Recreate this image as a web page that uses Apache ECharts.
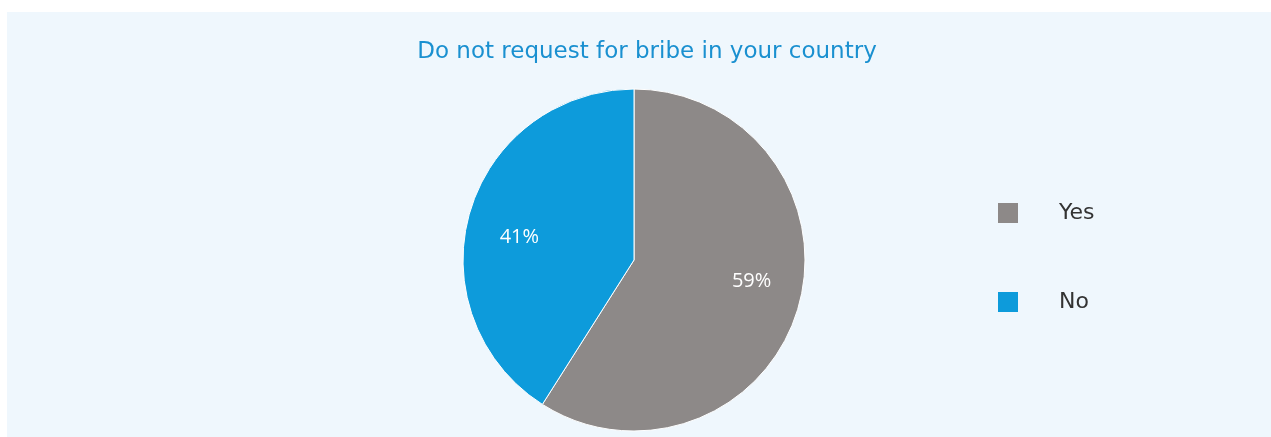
<!DOCTYPE html>
<html>
<head>
<meta charset="utf-8">
<style>
  html, body { margin: 0; padding: 0; background: #ffffff; }
  #chart { width: 1271px; height: 437px; }
</style>
<script src="https://cdn.jsdelivr.net/npm/echarts@6/dist/echarts.min.js"></script>
</head>
<body>
<div id="chart"></div>
<script>
// Survey answers and their shares (percent)
const categories = ['Yes', 'No'];
const shares = [59, 41];
const sliceColors = ['#8D8988', '#0D9BDB'];
const titleText = 'Do not request for bribe in your country';

const center = [634, 260];
const radius = 171;
// nudge each percentage label a little toward the horizontal
const labelNudges = [[0, -13], [3, 11]];

const pieData = categories.map((name, i) => ({
  name: name,
  value: shares[i],
  itemStyle: { color: sliceColors[i] }
}));

const chart = echarts.init(document.getElementById('chart'), null, { renderer: 'canvas' });
chart.setOption({
  backgroundColor: '#ffffff',
  animation: false,
  graphic: [{
    type: 'rect',
    z: -10,
    silent: true,
    shape: { x: 7, y: 12, width: 1264, height: 430 },
    style: { fill: '#EFF7FD' }
  }],
  title: {
    text: titleText,
    left: 642,
    textAlign: 'center',
    top: 36,
    textStyle: {
      fontFamily: 'DejaVu Sans',
      fontWeight: 'normal',
      fontSize: 23,
      color: '#1A90D0'
    }
  },
  legend: {
    orient: 'vertical',
    left: 993,
    top: 197,
    icon: 'rect',
    itemWidth: 20,
    itemHeight: 20,
    itemGap: 67,
    data: categories,
    itemStyle: { borderWidth: 0 },
    textStyle: {
      fontFamily: 'DejaVu Sans',
      fontSize: 22,
      color: '#333333',
      padding: [0, 0, 0, 36]
    }
  },
  series: [
    {
      type: 'pie',
      center: center,
      radius: radius,
      startAngle: 90,
      clockwise: true,
      label: { show: false },
      labelLine: { show: false },
      emphasis: { disabled: true },
      itemStyle: { borderColor: '#ffffff', borderWidth: 1 },
      data: pieData
    },
    {
      // transparent ring that places the percentage labels at ~70% of the radius
      type: 'pie',
      center: center,
      radius: [Math.round(radius * 0.4), radius],
      startAngle: 90,
      clockwise: true,
      silent: true,
      itemStyle: { color: 'rgba(0,0,0,0)' },
      legendHoverLink: false,
      labelLine: { show: false },
      label: {
        show: true,
        position: 'inside',
        formatter: '{c}%',
        fontFamily: 'Open Sans',
        fontSize: 20,
        color: '#ffffff'
      },
      data: categories.map((name, i) => ({
        name: name + ' ',
        value: shares[i],
        label: { offset: labelNudges[i] }
      }))
    }
  ]
});
</script>
</body>
</html>
